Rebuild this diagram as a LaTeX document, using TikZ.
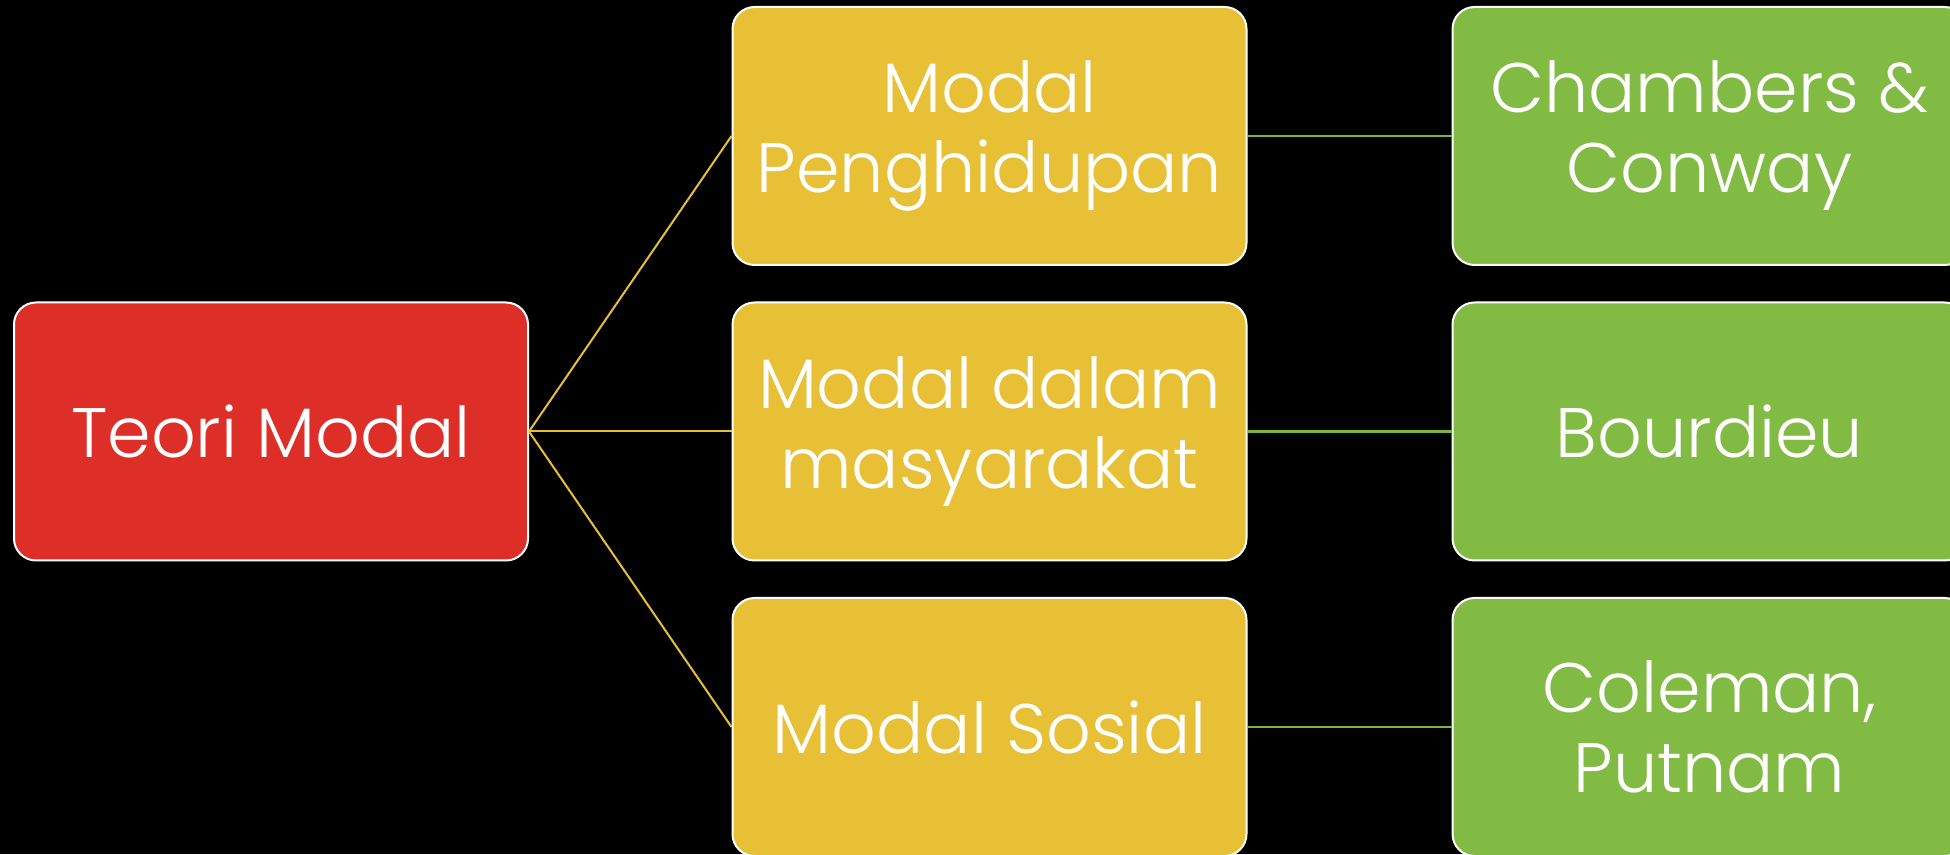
\documentclass[tikz,border=0pt]{standalone}
\usepackage{fontspec}
\setmainfont{Poppins Light}
\definecolor{cred}{HTML}{DE2E28}
\definecolor{cyel}{HTML}{E8C035}
\definecolor{cgrn}{HTML}{82BB44}
\definecolor{lyel}{HTML}{E8C035}
\definecolor{lgrn}{HTML}{7DB43C}
\begin{document}
\begin{tikzpicture}[x=1pt,y=1pt,
  box/.style={draw=white, line width=2pt, rounded corners=22pt,
    minimum width=514pt, minimum height=258pt, text=white, align=center,
    font=\fontsize{70}{80}\selectfont, inner sep=0pt},
  rootbox/.style={box, fill=cred},
  midbox/.style={box, fill=cyel},
  leafbox/.style={box, fill=cgrn},
  ylink/.style={draw=lyel, line width=2pt},
  glink/.style={draw=lgrn, line width=2.5pt}]
\fill[black] (0,0) rectangle (1950,854);
\useasboundingbox (0,0) rectangle (1950,854);
\node[rootbox] (root) at (271,422.5) {Teori Modal};
\node[midbox] (m1) at (989.5,718) {Modal\\Penghidupan};
\node[midbox] (m2) at (989.5,422.5) {Modal dalam\\masyarakat};
\node[midbox] (m3) at (989.5,127) {Modal Sosial};
\node[leafbox] (g1) at (1709.5,718) {Chambers \&\\Conway};
\node[leafbox] (g2) at (1709.5,422.5) {Bourdieu};
\node[leafbox] (g3) at (1709.5,127) {Coleman,\\Putnam};
\draw[ylink] (root.east) -- (m1.west);
\draw[ylink] (root.east) -- (m2.west);
\draw[ylink] (root.east) -- (m3.west);
\draw[glink] (m1.east) -- (g1.west);
\draw[glink] (m2.east) -- (g2.west);
\draw[glink] (m3.east) -- (g3.west);
\end{tikzpicture}
\end{document}
